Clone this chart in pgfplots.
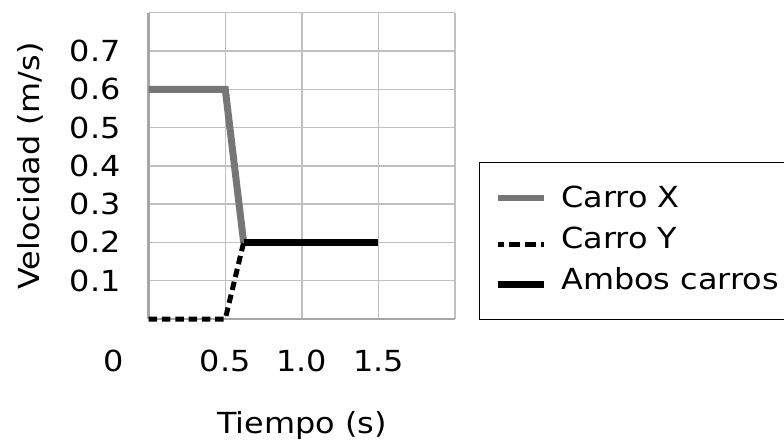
\documentclass[border=0pt]{standalone}
\usepackage{pgfplots}
\pgfplotsset{compat=1.18}
\usepackage{fontspec}
\setmainfont[FakeStretch=1.1]{DejaVu Sans}
\definecolor{gridgray}{RGB}{192,192,192}
\definecolor{axisgray}{RGB}{166,166,166}
\definecolor{linegray}{RGB}{118,118,118}
\begin{document}
\fontsize{29bp}{35bp}\selectfont
\begin{tikzpicture}
\begin{axis}[
  scale only axis, width=306.3bp, height=306.3bp,
  xmin=0, xmax=2, ymin=0, ymax=0.8,
  axis lines=left, axis line style={-, draw=axisgray, line width=2.8bp},
  xtick={0,0.5,1,1.5,2}, xticklabels={,0.5,1.0,1.5,},
  ytick={0,0.1,0.2,0.3,0.4,0.5,0.6,0.7,0.8},
  yticklabels={,0.1,0.2,0.3,0.4,0.5,0.6,0.7,},
  /pgf/number format/assume math mode=true,
  major tick length=0pt,
  grid=major, major grid style={draw=gridgray, line width=1.5bp},
  xticklabel style={anchor=north, inner sep=0pt, yshift=-31bp},
  yticklabel style={anchor=east, inner sep=0pt, xshift=-28bp},
  xlabel={Tiempo (s)}, ylabel={Velocidad (m/s)},
  xlabel style={at={(axis description cs:0.5,-0.3004)}, anchor=north, inner sep=0pt},
  ylabel style={at={(axis description cs:-0.3875,0.5)}, anchor=center, inner sep=0pt},
  legend style={at={(axis description cs:1.0817,0.5093)}, anchor=north west,
    draw=none, inner xsep=15bp, inner ysep=22.5bp,
    row sep=11.8bp, column sep=13.5bp,
    nodes={inner sep=0pt, anchor=west, text height=22bp, text depth=7bp}},
  clip=false,
]
\addplot[linegray, line width=7bp,
  legend image code/.code={\draw[linegray, line width=6.3bp] (0bp,2.5bp) -- (46bp,2.5bp);}]
  coordinates {(0,0.6) (0.5,0.6) (0.62,0.2)};
\addlegendentry{Carro X}
\addplot[black, line width=5bp, dash pattern=on 8.5bp off 4.8bp,
  legend image code/.code={\draw[black, line width=5bp, dash pattern=on 11bp off 5bp, dash phase=5.3bp] (0bp,-3.5bp) -- (46bp,-3.5bp);}]
  coordinates {(0,0) (0.5,0) (0.62,0.2)};
\addlegendentry{Carro Y}
\addplot[black, line width=7bp,
  legend image code/.code={\draw[black, line width=6.5bp] (0bp,-2.8bp) -- (46bp,-2.8bp);}]
  coordinates {(0.62,0.2) (1.5,0.2)};
\addlegendentry{Ambos carros}
\node[anchor=north, inner sep=0pt] at ([xshift=-35.4bp, yshift=-31bp]axis cs:0,0) {0};
\draw[black, line width=1.5bp] (axis description cs:2.2,0.5093) -- (axis description cs:1.0817,0.5093)
  -- (axis description cs:1.0817,-0.0016) -- (axis description cs:2.2,-0.0016);
\end{axis}
\pgfresetboundingbox
\path ([shift={(-148.7bp,-121bp)}]current axis.south west) rectangle ++(784bp,440bp);
\end{tikzpicture}
\end{document}
